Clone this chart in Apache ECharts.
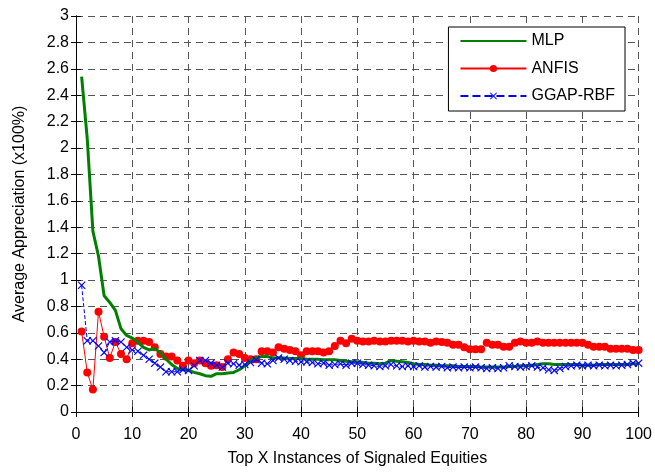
<!DOCTYPE html>
<html>
<head>
<meta charset="utf-8">
<script src="https://cdn.jsdelivr.net/npm/echarts@6/dist/echarts.min.js"></script>
<style>
  html, body { margin: 0; padding: 0; background: #fff; }
  #chart { width: 655px; height: 472px; }
</style>
</head>
<body>
<div id="chart"></div>
<script>
// average appreciation per top-X instance (x = 1..100)
const mlp = [
  2.54, 2.07, 1.37, 1.18, 0.88, 0.83, 0.77, 0.63, 0.58, 0.56,
  0.53, 0.49, 0.47, 0.48, 0.45, 0.40, 0.36, 0.33, 0.32, 0.315,
  0.30, 0.29, 0.275, 0.27, 0.29, 0.29, 0.295, 0.30, 0.32, 0.35,
  0.39, 0.41, 0.42, 0.42, 0.41, 0.41, 0.41, 0.405, 0.405, 0.405,
  0.40, 0.40, 0.40, 0.395, 0.395, 0.395, 0.39, 0.385, 0.38, 0.38,
  0.375, 0.37, 0.37, 0.365, 0.37, 0.39, 0.385, 0.38, 0.375, 0.365,
  0.36, 0.36, 0.355, 0.355, 0.35, 0.35, 0.35, 0.345, 0.345, 0.345,
  0.345, 0.34, 0.34, 0.34, 0.34, 0.34, 0.345, 0.345, 0.35, 0.35,
  0.355, 0.36, 0.365, 0.365, 0.36, 0.36, 0.36, 0.36, 0.36, 0.355,
  0.355, 0.355, 0.36, 0.36, 0.36, 0.36, 0.36, 0.36, 0.365, 0.365
];
const anfis = [
  0.61, 0.30, 0.17, 0.76, 0.57, 0.41, 0.53, 0.44, 0.40, 0.52,
  0.54, 0.54, 0.53, 0.49, 0.44, 0.42, 0.42, 0.39, 0.35, 0.39,
  0.37, 0.39, 0.37, 0.35, 0.355, 0.34, 0.40, 0.45, 0.44, 0.41,
  0.40, 0.40, 0.46, 0.46, 0.45, 0.49, 0.48, 0.47, 0.46, 0.43,
  0.46, 0.46, 0.46, 0.45, 0.46, 0.50, 0.54, 0.52, 0.555, 0.54,
  0.535, 0.535, 0.54, 0.535, 0.535, 0.54, 0.54, 0.54, 0.535, 0.54,
  0.535, 0.535, 0.525, 0.535, 0.53, 0.525, 0.51, 0.51, 0.49, 0.475,
  0.475, 0.475, 0.525, 0.51, 0.51, 0.495, 0.495, 0.525, 0.535, 0.525,
  0.525, 0.535, 0.525, 0.525, 0.525, 0.525, 0.525, 0.525, 0.525, 0.525,
  0.51, 0.495, 0.495, 0.495, 0.48, 0.48, 0.48, 0.48, 0.47, 0.47
];
const ggapRbf = [
  0.96, 0.54, 0.54, 0.50, 0.45, 0.53, 0.54, 0.53, 0.49, 0.47,
  0.46, 0.43, 0.40, 0.37, 0.34, 0.305, 0.305, 0.305, 0.32, 0.315,
  0.35, 0.39, 0.39, 0.37, 0.355, 0.34, 0.37, 0.365, 0.355, 0.36,
  0.375, 0.395, 0.37, 0.365, 0.39, 0.41, 0.40, 0.39, 0.385, 0.38,
  0.38, 0.375, 0.365, 0.37, 0.355, 0.36, 0.365, 0.355, 0.37, 0.37,
  0.36, 0.355, 0.35, 0.345, 0.35, 0.36, 0.35, 0.345, 0.35, 0.345,
  0.35, 0.34, 0.345, 0.34, 0.345, 0.335, 0.34, 0.335, 0.34, 0.335,
  0.34, 0.335, 0.33, 0.335, 0.33, 0.335, 0.35, 0.345, 0.34, 0.345,
  0.35, 0.34, 0.335, 0.32, 0.315, 0.33, 0.345, 0.35, 0.355, 0.35,
  0.355, 0.35, 0.355, 0.35, 0.355, 0.35, 0.355, 0.36, 0.37, 0.37
];
const instances = mlp.map((v, i) => i + 1);

const font = 'Arial, "Liberation Sans", Helvetica, sans-serif';
const pairs = arr => arr.map((v, i) => [instances[i], v]);

const chart = echarts.init(document.getElementById('chart'));

const axisBase = {
  axisLine: { show: true, lineStyle: { color: '#000', width: 1 } },
  axisTick: { show: true, inside: true, length: 5, lineStyle: { color: '#000' } },
};
const gridLine = { show: true, lineStyle: { color: '#555', width: 1, type: [7, 5] } };

chart.setOption({
  animation: false,
  backgroundColor: '#fff',
  grid: { left: 76, right: 16, top: 16, bottom: 58 },
  xAxis: [
    Object.assign({}, axisBase, {
      type: 'value', min: 0, max: 100, interval: 10,
      name: 'Top X Instances of Signaled Equities',
      nameLocation: 'middle', nameGap: 39,
      nameTextStyle: { color: '#000', fontSize: 16, fontFamily: font },
      axisLabel: { color: '#000', fontSize: 16, fontFamily: font, margin: 15 },
      splitLine: gridLine,
    }),
    Object.assign({}, axisBase, {
      type: 'value', min: 0, max: 100, interval: 10, position: 'top',
      axisLabel: { show: false }, splitLine: { show: false },
    }),
  ],
  yAxis: [
    Object.assign({}, axisBase, {
      type: 'value', min: 0, max: 3, interval: 0.2,
      name: 'Average Appreciation (x100%)',
      nameLocation: 'middle', nameGap: 48,
      nameTextStyle: { color: '#000', fontSize: 16, fontFamily: font },
      axisLabel: { color: '#000', fontSize: 16, fontFamily: font, margin: 7 },
      splitLine: gridLine,
    }),
    Object.assign({}, axisBase, {
      type: 'value', min: 0, max: 3, interval: 0.2, position: 'right',
      axisLabel: { show: false }, splitLine: { show: false },
    }),
  ],
  legend: {
    data: [
      { name: 'MLP', itemStyle: { opacity: 0 } },
      { name: 'ANFIS' },
      { name: 'GGAP-RBF' },
    ],
    orient: 'vertical',
    right: 30,
    top: 27,
    itemWidth: 66,
    itemHeight: 9,
    itemGap: 11.5,
    padding: [6, 10, 7, 11],
    backgroundColor: '#fff',
    borderColor: '#000',
    borderWidth: 1,
    borderRadius: 0,
    textStyle: { color: '#000', fontSize: 16, fontFamily: font },
  },
  series: [
    {
      name: 'MLP',
      type: 'line',
      data: pairs(mlp),
      symbol: 'none',
      lineStyle: { color: '#008000', width: 3 },
      itemStyle: { color: '#008000' },
      z: 3,
    },
    {
      name: 'ANFIS',
      type: 'line',
      data: pairs(anfis),
      symbol: 'circle',
      symbolSize: 8,
      lineStyle: { color: '#ff0000', width: 1 },
      itemStyle: { color: '#ff0000' },
      z: 2,
    },
    {
      name: 'GGAP-RBF',
      type: 'line',
      data: pairs(ggapRbf),
      symbol: 'path://M0,1 L1,0 L5,4 L9,0 L10,1 L6,5 L10,9 L9,10 L5,6 L1,10 L0,9 L4,5 Z',
      symbolSize: 8,
      lineStyle: { color: '#0000ff', width: 1, type: 'dashed' },
      itemStyle: { color: '#0000ff' },
      z: 4,
    },
  ],
});
</script>
</body>
</html>
